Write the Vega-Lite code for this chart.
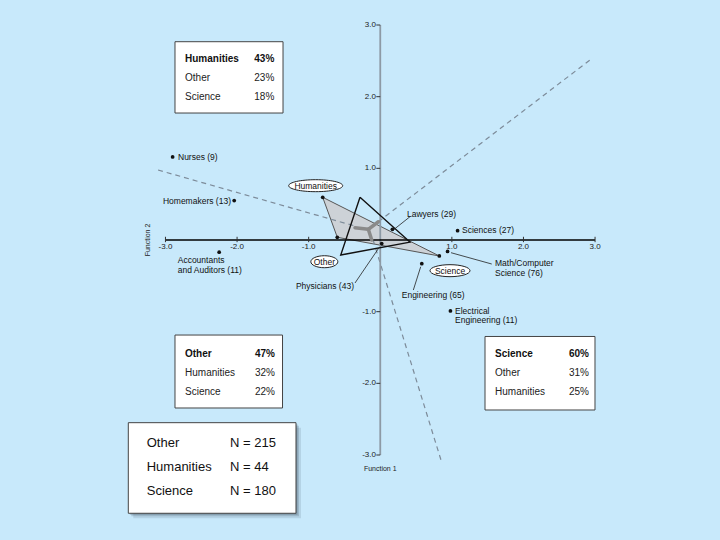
{
  "$schema": "https://vega.github.io/schema/vega-lite/v6.json",
  "width": 720,
  "height": 540,
  "autosize": {"type": "fit", "contains": "padding"},
  "padding": 0,
  "background": "#c8e9fb",
  "config": {"view": {"stroke": null}, "text": {"font": "Liberation Sans"}},
  "encoding": {
    "x": {"field": "x", "type": "quantitative", "scale": {"domain": [-5.311, 4.745], "nice": false, "zero": false}, "axis": null},
    "y": {"field": "y", "type": "quantitative", "scale": {"domain": [-4.186, 3.349], "nice": false, "zero": false}, "axis": null}
  },
  "layer": [
    {
      "data": {"values": [{"x": -3.519, "x2": -1.177, "y": -2.549, "y2": -3.813}]},
      "mark": {"type": "rect", "color": "#2a3a4a", "opacity": 0.12, "xOffset": 5, "yOffset": 5, "x2Offset": 5, "y2Offset": 5},
      "encoding": {"x2": {"field": "x2"}, "y2": {"field": "y2"}}
    },
    {
      "data": {"values": [{"x": -3.519, "x2": -1.177, "y": -2.549, "y2": -3.813}]},
      "mark": {"type": "rect", "color": "#2a3a4a", "opacity": 0.18, "xOffset": 3, "yOffset": 3, "x2Offset": 3, "y2Offset": 3},
      "encoding": {"x2": {"field": "x2"}, "y2": {"field": "y2"}}
    },
    {
      "data": {"values": [{"x": -3.519, "x2": -1.177, "y": -2.549, "y2": -3.813}]},
      "mark": {"type": "rect", "color": "#2a3a4a", "opacity": 0.25, "xOffset": 1.5, "yOffset": 1.5, "x2Offset": 1.5, "y2Offset": 1.5},
      "encoding": {"x2": {"field": "x2"}, "y2": {"field": "y2"}}
    },
    {
      "data": {"values": [
        {"box": "Humanities", "x": -2.867, "x2": -1.358, "y": 2.767, "y2": 1.772},
        {"box": "Other", "x": -2.867, "x2": -1.365, "y": -1.326, "y2": -2.344},
        {"box": "Science", "x": 1.463, "x2": 2.999, "y": -1.346, "y2": -2.372},
        {"box": "N", "x": -3.519, "x2": -1.177, "y": -2.549, "y2": -3.813}
      ]},
      "mark": {"type": "rect", "fill": "white", "stroke": "#444", "strokeWidth": 1},
      "encoding": {"x2": {"field": "x2"}, "y2": {"field": "y2"}}
    },
    {
      "data": {"values": [
        {"x": -0.804, "y": 0.596, "i": 1},
        {"x": -0.600, "y": 0.038, "i": 2},
        {"x": 0.825, "y": -0.223, "i": 3},
        {"x": -0.804, "y": 0.596, "i": 4}
      ]},
      "mark": {"type": "line", "fill": "#cdd2d7", "stroke": "#555", "strokeWidth": 1},
      "encoding": {"order": {"field": "i", "type": "quantitative"}}
    },
    {
      "data": {"values": [
        {"x": -3.104, "y": 0.977, "x2": -0.353, "y2": 0.195},
        {"x": -0.027, "y": 0.255, "x2": 2.929, "y2": 2.512},
        {"x": -0.100, "y": 0.0, "x2": 0.848, "y2": -3.07}
      ]},
      "mark": {"type": "rule", "color": "#7d8b99", "strokeWidth": 1.2, "strokeDash": [5, 4]},
      "encoding": {"x2": {"field": "x2"}, "y2": {"field": "y2"}}
    },
    {
      "data": {"values": [
        {"x": 0, "y": -3, "x2": 0, "y2": 3}
      ]},
      "mark": {"type": "rule", "color": "#8d9aa5", "strokeWidth": 1.8},
      "encoding": {"x2": {"field": "x2"}, "y2": {"field": "y2"}}
    },
    {
      "data": {"values": [
        {"x": -3, "y": 0, "x2": 3, "y2": 0}
      ]},
      "mark": {"type": "rule", "color": "#000", "strokeWidth": 1.6},
      "encoding": {"x2": {"field": "x2"}, "y2": {"field": "y2"}}
    },
    {
      "data": {"values": [
        {"x": -3, "y": 0.045, "x2": -3, "y2": -0.03},
        {"x": -2, "y": 0.045, "x2": -2, "y2": -0.03},
        {"x": -1, "y": 0.045, "x2": -1, "y2": -0.03},
        {"x": 1, "y": 0.045, "x2": 1, "y2": -0.03},
        {"x": 2, "y": 0.045, "x2": 2, "y2": -0.03},
        {"x": 3, "y": 0.045, "x2": 3, "y2": -0.03},
        {"x": -0.055, "y": 3, "x2": 0, "y2": 3},
        {"x": -0.055, "y": 2, "x2": 0, "y2": 2},
        {"x": -0.055, "y": 1, "x2": 0, "y2": 1},
        {"x": -0.055, "y": -1, "x2": 0, "y2": -1},
        {"x": -0.055, "y": -2, "x2": 0, "y2": -2},
        {"x": -0.055, "y": -3, "x2": 0, "y2": -3}
      ]},
      "mark": {"type": "rule", "color": "#333", "strokeWidth": 1},
      "encoding": {"x2": {"field": "x2"}, "y2": {"field": "y2"}}
    },
    {
      "data": {"values": [
        {"x": -0.167, "y": 0.149, "x2": -0.027, "y2": 0.255},
        {"x": -0.167, "y": 0.149, "x2": -0.353, "y2": 0.172},
        {"x": -0.167, "y": 0.149, "x2": -0.119, "y2": 0.0}
      ]},
      "mark": {"type": "rule", "color": "#8a8a8a", "strokeWidth": 3.5, "strokeCap": "round"},
      "encoding": {"x2": {"field": "x2"}, "y2": {"field": "y2"}}
    },
    {
      "data": {"values": [
        {"x": -0.283, "y": 0.596, "i": 1},
        {"x": -0.552, "y": -0.209, "i": 2},
        {"x": 0.415, "y": -0.029, "i": 3},
        {"x": -0.283, "y": 0.596, "i": 4}
      ]},
      "mark": {"type": "line", "color": "#111", "strokeWidth": 1.4},
      "encoding": {"order": {"field": "i", "type": "quantitative"}}
    },
    {
      "data": {"values": [
        {"x": 0.182, "y": 0.140, "x2": 0.415, "y2": 0.325},
        {"x": -0.017, "y": -0.107, "x2": -0.353, "y2": -0.600},
        {"x": 0.988, "y": -0.177, "x2": 1.557, "y2": -0.335},
        {"x": 0.565, "y": -0.373, "x2": 0.462, "y2": -0.698}
      ]},
      "mark": {"type": "rule", "color": "#222", "strokeWidth": 0.8},
      "encoding": {"x2": {"field": "x2"}, "y2": {"field": "y2"}}
    },
    {
      "data": {"values": [
        {"name": "Nurses", "x": -2.90, "y": 1.16},
        {"name": "Homemakers", "x": -2.04, "y": 0.55},
        {"name": "Accountants and Auditors", "x": -2.25, "y": -0.17},
        {"name": "Humanities", "x": -0.804, "y": 0.596},
        {"name": "Other", "x": -0.600, "y": 0.038},
        {"name": "Science", "x": 0.825, "y": -0.223},
        {"name": "Physicians", "x": 0.02, "y": -0.05},
        {"name": "Lawyers", "x": 0.17, "y": 0.15},
        {"name": "Sciences", "x": 1.08, "y": 0.13},
        {"name": "Math/Computer Science", "x": 0.94, "y": -0.16},
        {"name": "Engineering", "x": 0.58, "y": -0.33},
        {"name": "Electrical Engineering", "x": 0.98, "y": -0.99}
      ]},
      "mark": {"type": "circle", "color": "#111", "size": 14, "opacity": 1}
    },
    {
      "data": {"values": [{"x": -0.902, "y": 0.758}]},
      "mark": {"type": "point", "shape": "M-1,0C-1,-0.1226,-0.5523,-0.222,0,-0.222C0.5523,-0.222,1,-0.1226,1,0C1,0.1226,0.5523,0.222,0,0.222C-0.5523,0.222,-1,0.1226,-1,0Z", "size": 2916, "filled": true, "fill": "white", "stroke": "#222", "strokeWidth": 1, "opacity": 1}
    },
    {
      "data": {"values": [{"x": -0.781, "y": -0.303}]},
      "mark": {"type": "point", "shape": "M-1,0C-1,-0.2452,-0.5523,-0.444,0,-0.444C0.5523,-0.444,1,-0.2452,1,0C1,0.2452,0.5523,0.444,0,0.444C-0.5523,0.444,-1,0.2452,-1,0Z", "size": 729, "filled": true, "fill": "white", "stroke": "#222", "strokeWidth": 1, "opacity": 1}
    },
    {
      "data": {"values": [{"x": 0.974, "y": -0.428}]},
      "mark": {"type": "point", "shape": "M-1,0C-1,-0.1657,-0.5523,-0.3,0,-0.3C0.5523,-0.3,1,-0.1657,1,0C1,0.1657,0.5523,0.3,0,0.3C-0.5523,0.3,-1,0.1657,-1,0Z", "size": 1600, "filled": true, "fill": "white", "stroke": "#222", "strokeWidth": 1, "opacity": 1}
    },
    {
      "data": {"values": [
        {"label": "Humanities", "x": -0.902, "y": 0.758},
        {"label": "Other", "x": -0.781, "y": -0.303},
        {"label": "Science", "x": 0.974, "y": -0.428}
      ]},
      "mark": {"type": "text", "fontSize": 8.5, "align": "center", "baseline": "middle", "color": "#111"},
      "encoding": {"text": {"field": "label"}}
    },
    {
      "data": {"values": [
        {"label": "Nurses (9)", "x": -2.825, "y": 1.162},
        {"label": "Lawyers (29)", "x": 0.373, "y": 0.363},
        {"label": "Sciences (27)", "x": 1.142, "y": 0.133},
        {"label": "Math/Computer", "x": 1.603, "y": -0.317},
        {"label": "Science (76)", "x": 1.603, "y": -0.461},
        {"label": "Electrical", "x": 1.044, "y": -0.986},
        {"label": "Engineering (11)", "x": 1.044, "y": -1.123},
        {"label": "Accountants", "x": -2.829, "y": -0.279},
        {"label": "and Auditors (11)", "x": -2.829, "y": -0.419},
        {"label": "Engineering (65)", "x": 0.300, "y": -0.767}
      ]},
      "mark": {"type": "text", "fontSize": 8.5, "align": "left", "baseline": "middle", "color": "#111"},
      "encoding": {"text": {"field": "label"}}
    },
    {
      "data": {"values": [
        {"label": "Homemakers (13)", "x": -2.085, "y": 0.544},
        {"label": "Physicians (43)", "x": -0.367, "y": -0.635}
      ]},
      "mark": {"type": "text", "fontSize": 8.5, "align": "right", "baseline": "middle", "color": "#111"},
      "encoding": {"text": {"field": "label"}}
    },
    {
      "data": {"values": [
        {"label": "-3.0", "x": -3, "y": -0.094},
        {"label": "-2.0", "x": -2, "y": -0.094},
        {"label": "-1.0", "x": -1, "y": -0.094},
        {"label": "1.0", "x": 1, "y": -0.094},
        {"label": "2.0", "x": 2, "y": -0.094},
        {"label": "3.0", "x": 3, "y": -0.094}
      ]},
      "mark": {"type": "text", "fontSize": 8, "align": "center", "baseline": "middle", "color": "#222"},
      "encoding": {"text": {"field": "label"}}
    },
    {
      "data": {"values": [
        {"label": "3.0", "x": -0.06, "y": 3},
        {"label": "2.0", "x": -0.06, "y": 2},
        {"label": "1.0", "x": -0.06, "y": 1},
        {"label": "-1.0", "x": -0.06, "y": -1},
        {"label": "-2.0", "x": -0.06, "y": -2},
        {"label": "-3.0", "x": -0.06, "y": -3}
      ]},
      "mark": {"type": "text", "fontSize": 8, "align": "right", "baseline": "middle", "color": "#222"},
      "encoding": {"text": {"field": "label"}}
    },
    {
      "data": {"values": [{"label": "Function 1", "x": 0.0, "y": -3.195}]},
      "mark": {"type": "text", "fontSize": 7, "align": "center", "baseline": "middle", "color": "#222"},
      "encoding": {"text": {"field": "label"}}
    },
    {
      "data": {"values": [{"label": "Function 2", "x": -3.24, "y": 0.0}]},
      "mark": {"type": "text", "fontSize": 7, "align": "center", "baseline": "middle", "angle": 270, "color": "#222"},
      "encoding": {"text": {"field": "label"}}
    },
    {
      "data": {"values": [
        {"label": "Humanities", "x": -2.727, "y": 2.521},
        {"label": "Other", "x": -2.727, "y": -1.591},
        {"label": "Science", "x": 1.603, "y": -1.591}
      ]},
      "mark": {"type": "text", "fontSize": 10, "fontWeight": "bold", "align": "left", "baseline": "middle", "color": "#111"},
      "encoding": {"text": {"field": "label"}}
    },
    {
      "data": {"values": [
        {"label": "43%", "x": -1.48, "y": 2.521},
        {"label": "47%", "x": -1.47, "y": -1.591},
        {"label": "60%", "x": 2.915, "y": -1.591}
      ]},
      "mark": {"type": "text", "fontSize": 10, "fontWeight": "bold", "align": "right", "baseline": "middle", "color": "#111"},
      "encoding": {"text": {"field": "label"}}
    },
    {
      "data": {"values": [
        {"label": "Other", "x": -2.727, "y": 2.256},
        {"label": "Science", "x": -2.727, "y": 1.999},
        {"label": "Humanities", "x": -2.727, "y": -1.852},
        {"label": "Science", "x": -2.727, "y": -2.117},
        {"label": "Other", "x": 1.603, "y": -1.852},
        {"label": "Humanities", "x": 1.603, "y": -2.117}
      ]},
      "mark": {"type": "text", "fontSize": 10, "align": "left", "baseline": "middle", "color": "#222"},
      "encoding": {"text": {"field": "label"}}
    },
    {
      "data": {"values": [
        {"label": "23%", "x": -1.48, "y": 2.256},
        {"label": "18%", "x": -1.48, "y": 1.999},
        {"label": "32%", "x": -1.47, "y": -1.852},
        {"label": "22%", "x": -1.47, "y": -2.117},
        {"label": "31%", "x": 2.915, "y": -1.852},
        {"label": "25%", "x": 2.915, "y": -2.117}
      ]},
      "mark": {"type": "text", "fontSize": 10, "align": "right", "baseline": "middle", "color": "#222"},
      "encoding": {"text": {"field": "label"}}
    },
    {
      "data": {"values": [
        {"label": "Other", "x": -3.262, "y": -2.837},
        {"label": "Humanities", "x": -3.262, "y": -3.171},
        {"label": "Science", "x": -3.262, "y": -3.498},
        {"label": "N = 215", "x": -2.098, "y": -2.837},
        {"label": "N = 44", "x": -2.098, "y": -3.171},
        {"label": "N = 180", "x": -2.098, "y": -3.498}
      ]},
      "mark": {"type": "text", "fontSize": 13, "align": "left", "baseline": "middle", "color": "#111"},
      "encoding": {"text": {"field": "label"}}
    }
  ]
}
